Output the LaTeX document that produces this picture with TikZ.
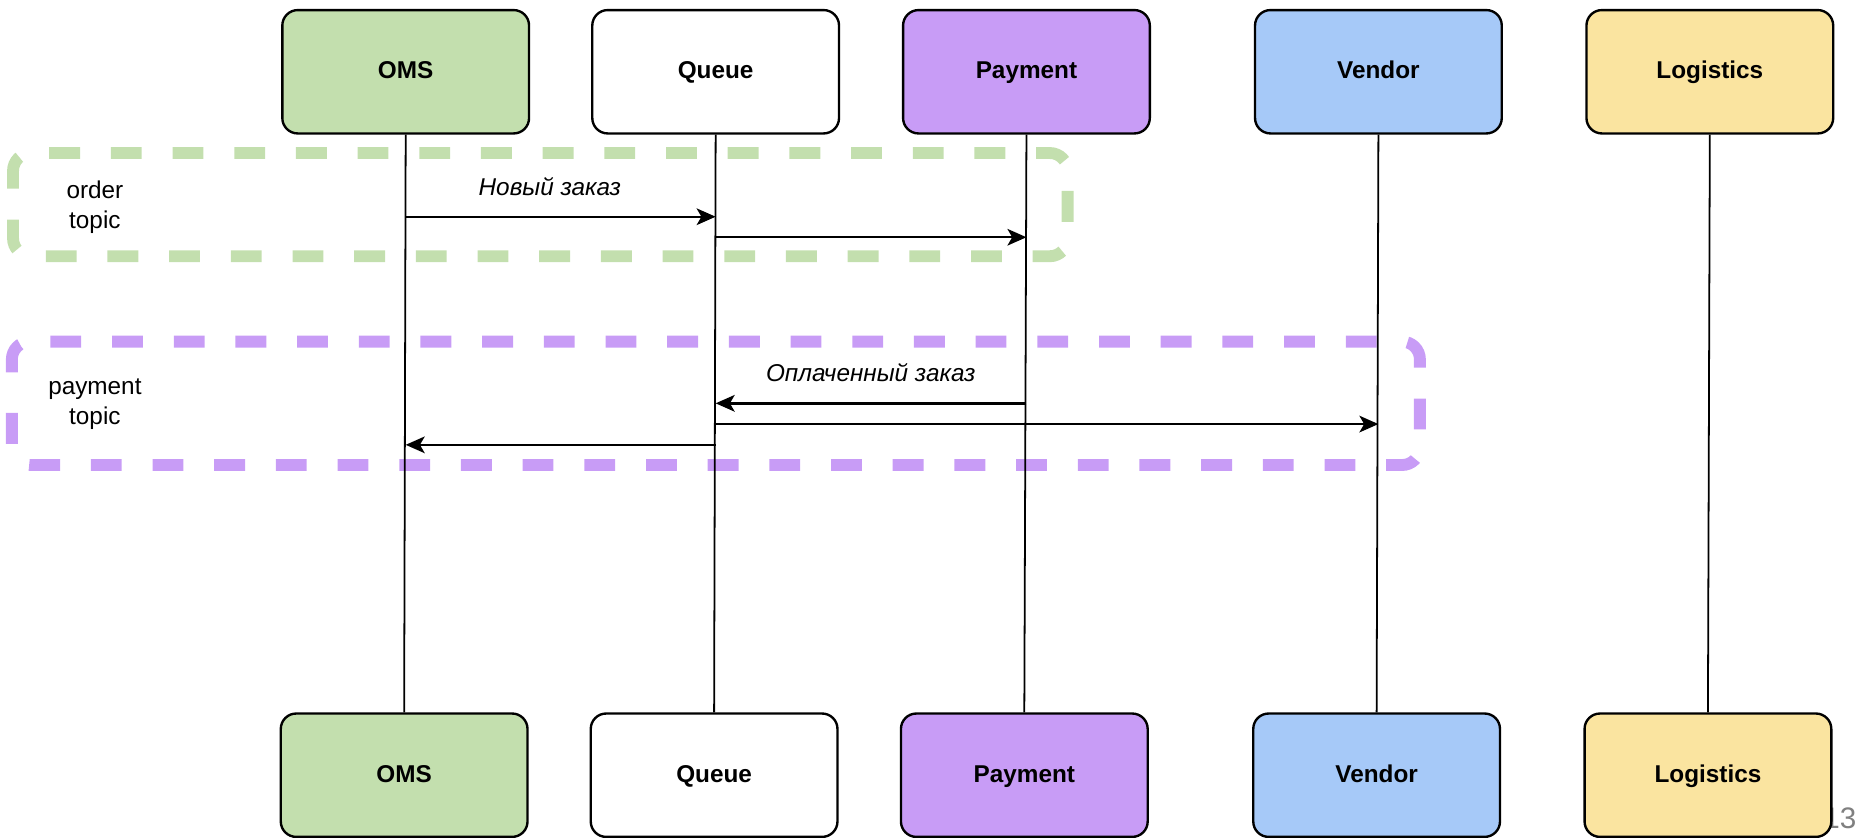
\documentclass[tikz,border=0pt]{standalone}
\usepackage{fontspec}
\setmainfont{Liberation Sans}
\usetikzlibrary{arrows.meta}

\definecolor{omsgreen}{HTML}{C3DFAE}
\definecolor{paypurple}{HTML}{C89CF6}
\definecolor{vendblue}{HTML}{A6C9F8}
\definecolor{logyellow}{HTML}{FAE4A0}
\definecolor{pagegray}{HTML}{808080}

\begin{document}
\begin{tikzpicture}[x=1pt,y=-1pt,
  actor/.style={draw=black, line width=2pt, rounded corners=13pt,
    minimum width=208pt, minimum height=104pt, inner sep=0pt,
    text height=1.2em, text depth=0pt,
    font=\fontsize{20.5}{24}\selectfont\bfseries},
  lifeline/.style={line width=1.5pt},
  msg/.style={line width=2pt, -{Stealth[length=16pt,width=14pt,inset=4pt]}},
  topicbox/.style={line width=10pt, rounded corners=15pt},
  topicname/.style={font=\fontsize{20.5}{24.6}\selectfont, align=center, inner sep=0pt},
  msglabel/.style={font=\fontsize{20.5}{24.6}\selectfont\itshape, inner sep=0pt},
]
\useasboundingbox (0,0) rectangle (1568,706);

% topic frames
\draw[topicbox, omsgreen, dash pattern=on 26pt off 26pt]
  (11,172) -- (11,129) -- (900,129) -- (900,216) -- (11,216) -- cycle;
\draw[topicbox, paypurple, dash pattern=on 26pt off 26pt, dash phase=41pt]
  (10,340) -- (10,288) -- (1197,288) -- (1197,392) -- (10,392) -- cycle;

\node[topicname] (ordertopic) at (80,174.7) {order\\topic};
\node[topicname] (paytopic) at (80,340.7) {payment\\topic};

% page number, partly hidden behind the last participant
\node[font=\fontsize{25}{25}\selectfont, text=pagegray, anchor=west, inner sep=0pt]
  (pageno) at (1537,690) {13};

% participants, top row
\node[actor, fill=omsgreen]  (omsT)   at (342,60.5)    {OMS};
\node[actor, fill=white]     (queueT) at (603.3,60.5)  {Queue};
\node[actor, fill=paypurple] (payT)   at (865.3,60.5)  {Payment};
\node[actor, fill=vendblue]  (vendT)  at (1162,60.5)   {Vendor};
\node[actor, fill=logyellow] (logT)   at (1441.4,60.5) {Logistics};

% participants, bottom row
\node[actor, fill=omsgreen]  (omsB)   at (340.7,653.5)  {OMS};
\node[actor, fill=white]     (queueB) at (602,653.5)    {Queue};
\node[actor, fill=paypurple] (payB)   at (863.5,653.5)  {Payment};
\node[actor, fill=vendblue]  (vendB)  at (1160.5,653.5) {Vendor};
\node[actor, fill=logyellow] (logB)   at (1439.8,653.5) {Logistics};

% lifelines
\draw[lifeline] (omsT.south)   -- (omsB.north);
\draw[lifeline] (queueT.south) -- (queueB.north);
\draw[lifeline] (payT.south)   -- (payB.north);
\draw[lifeline] (vendT.south)  -- (vendB.north);
\draw[lifeline] (logT.south)   -- (logB.north);

% message rows
\coordinate (r1) at (0,182.7);
\coordinate (r2) at (0,200);
\coordinate (r3) at (0,340);
\coordinate (r4) at (0,357.5);
\coordinate (r5) at (0,375);

\draw[msg] (omsT |- r1)   -- (queueT |- r1);
\draw[msg] (queueT |- r2) -- (payT |- r2);
\draw[msg] (payT |- r3)   -- (queueT |- r3);
\draw[msg] (queueT |- r4) -- (vendT |- r4);
\draw[msg] (queueT |- r5) -- (omsT |- r5);

\node[msglabel] (neworder) at (463.5,157) {Новый заказ};
\node[msglabel] (paidorder) at (734,314.5) {Оплаченный заказ};
\end{tikzpicture}
\end{document}
